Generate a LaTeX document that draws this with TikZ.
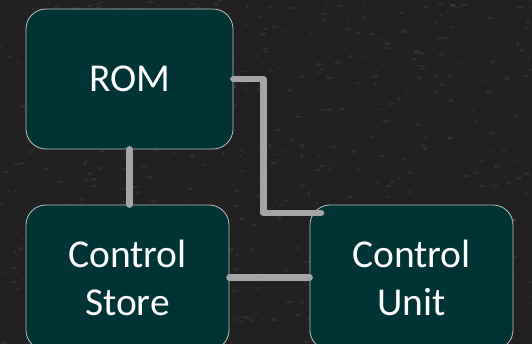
\documentclass[tikz,border=0pt]{standalone}
\usepackage{fontspec}
\setmainfont{Carlito}
\usetikzlibrary{positioning}

\definecolor{boardColor}{HTML}{212121}
\definecolor{boxColor}{HTML}{003333}
\definecolor{linkColor}{HTML}{A5A5A5}

\tikzset{
  blockbox/.style={draw=black!25, line width=0.8pt, fill=boxColor, rounded corners=20pt,
    text=white, font=\fontsize{39.5}{48}\selectfont, align=center,
    minimum width=203pt, minimum height=145pt, inner sep=0pt},
  linkline/.style={linkColor, line width=6.5pt, line cap=round, line join=round}
}

\begin{document}
\begin{tikzpicture}[x=1pt, y=-1pt]

% --- BACKGROUND (chalkboard) ---
\useasboundingbox (0,0) rectangle (532,344);
\clip (0,0) rectangle (532,344);
\fill[boardColor] (0,0) rectangle (532,344);
\pgfmathsetseed{7}
\foreach \i in {1,...,700}
  \fill[white, opacity=0.06] (rnd*532, rnd*344) rectangle ++(1+rnd*5, 1+rnd*2);

\coordinate (romA) at (129.5,79);
\coordinate (unitIn) at (321,213);

% --- THE THREE BLOCKS ---
\node[blockbox, minimum width=207pt, minimum height=140pt] (rom) at (romA) {ROM};
\node[blockbox] (store) at (127.5,277.5) {Control\\Store};
\node[blockbox] (unit) at (411.5,277.5) {Control\\Unit};

% --- CONNECTORS ---
% ROM down to Control Store
\draw[linkline] (rom.south) -- (rom.south |- store.north);
% ROM across and down to Control Unit
\draw[linkline] (rom.east) -- ++(30,0) |- (unitIn);
% Control Store across to Control Unit
\draw[linkline] (store.east) -- (store.east -| unit.west);

\end{tikzpicture}
\end{document}
